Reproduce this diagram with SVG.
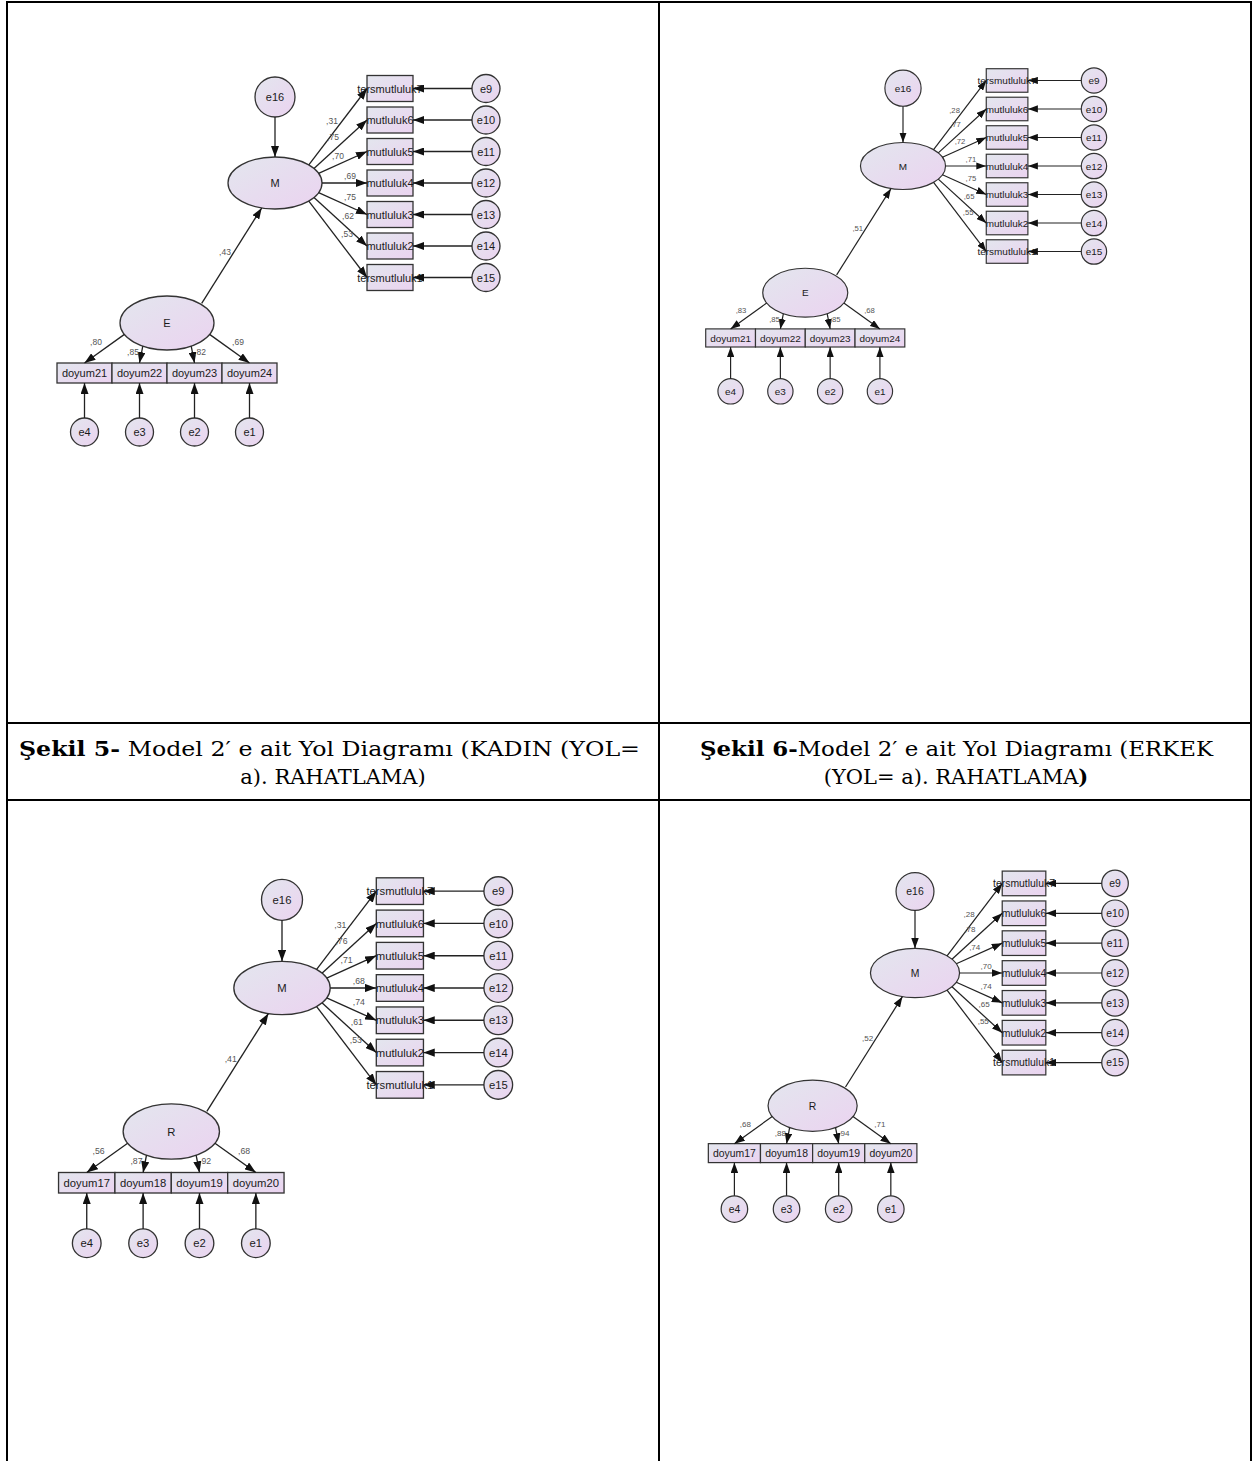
<svg xmlns="http://www.w3.org/2000/svg" width="1257" height="1461" viewBox="0 0 1257 1461">
<defs>
<linearGradient id="g" x1="0" y1="0" x2="1" y2="1">
<stop offset="0" stop-color="#e3e6ee"/>
<stop offset="1" stop-color="#ebd3f0"/>
</linearGradient>
<marker id="ah" viewBox="0 0 11 8" refX="11" refY="4" markerWidth="11" markerHeight="8" orient="auto" markerUnits="userSpaceOnUse">
<path d="M0,0 L11,4 L0,8 z" fill="#111"/>
</marker>
<style>
.n{fill:url(#g);stroke:#333;stroke-width:1.3}
.t{font-family:"Liberation Sans",Arial,sans-serif;font-size:11px;fill:#1a1a1a;text-anchor:middle}
.w{font-family:"Liberation Sans",Arial,sans-serif;font-size:8.5px;fill:#555;text-anchor:middle}
.c line{stroke:#222;stroke-width:1.3;marker-end:url(#ah)}
.tb{stroke:#000;stroke-width:2;fill:none}
.cap{font-family:"DejaVu Serif",serif;font-size:21px;fill:#000}
</style>
</defs>
<rect width="1257" height="1461" fill="#fff"/>
<g id="table">
<line class="tb" x1="6" y1="2" x2="1252" y2="2"/>
<line class="tb" x1="7" y1="1" x2="7" y2="1461"/>
<line class="tb" x1="1251" y1="1" x2="1251" y2="1461"/>
<line class="tb" x1="659" y1="1" x2="659" y2="1461"/>
<line class="tb" x1="6" y1="723" x2="1252" y2="723"/>
<line class="tb" x1="6" y1="800" x2="1252" y2="800" stroke-width="1.5"/>
</g>
<g id="captions">
<text class="cap" x="19" y="756" textLength="621" lengthAdjust="spacingAndGlyphs"><tspan font-weight="bold">Şekil 5-</tspan> Model 2′ e ait Yol Diagramı (KADIN (YOL=</text>
<text class="cap" x="333" y="784" text-anchor="middle">a). RAHATLAMA)</text>
<text class="cap" x="700" y="756" textLength="513" lengthAdjust="spacingAndGlyphs"><tspan font-weight="bold">Şekil 6-</tspan>Model 2′ e ait Yol Diagramı (ERKEK</text>
<text class="cap" x="956" y="784" text-anchor="middle">(YOL= a). RAHATLAMA<tspan font-weight="bold">)</tspan></text>
</g>

<!-- Diagram A -->
<g id="diagA" transform="translate(275,183)">
<g id="A-e16"><circle class="n" cx="0" cy="-86" r="20"/><text class="t" x="0" y="-82">e16</text></g>
<g id="A-M"><ellipse class="n" cx="0" cy="0" rx="47" ry="26"/><text class="t" x="0" y="4">M</text></g>
<g id="A-r7"><rect class="n" x="92" y="-107.5" width="46" height="26"/><text class="t" x="115" y="-90.5">tersmutluluk7</text></g>
<g id="A-r6"><rect class="n" x="92" y="-76" width="46" height="26"/><text class="t" x="115" y="-59">mutluluk6</text></g>
<g id="A-r5"><rect class="n" x="92" y="-44.5" width="46" height="26"/><text class="t" x="115" y="-27.5">mutluluk5</text></g>
<g id="A-r4"><rect class="n" x="92" y="-13" width="46" height="26"/><text class="t" x="115" y="4">mutluluk4</text></g>
<g id="A-r3"><rect class="n" x="92" y="18.5" width="46" height="26"/><text class="t" x="115" y="35.5">mutluluk3</text></g>
<g id="A-r2"><rect class="n" x="92" y="50" width="46" height="26"/><text class="t" x="115" y="67">mutluluk2</text></g>
<g id="A-r1"><rect class="n" x="92" y="81.5" width="46" height="26"/><text class="t" x="115" y="98.5">tersmutluluk1</text></g>
<g id="A-e9"><circle class="n" cx="211" cy="-94.5" r="14"/><text class="t" x="211" y="-90.5">e9</text></g>
<g id="A-e10"><circle class="n" cx="211" cy="-63" r="14"/><text class="t" x="211" y="-59">e10</text></g>
<g id="A-e11"><circle class="n" cx="211" cy="-31.5" r="14"/><text class="t" x="211" y="-27.5">e11</text></g>
<g id="A-e12"><circle class="n" cx="211" cy="0" r="14"/><text class="t" x="211" y="4">e12</text></g>
<g id="A-e13"><circle class="n" cx="211" cy="31.5" r="14"/><text class="t" x="211" y="35.5">e13</text></g>
<g id="A-e14"><circle class="n" cx="211" cy="63" r="14"/><text class="t" x="211" y="67">e14</text></g>
<g id="A-e15"><circle class="n" cx="211" cy="94.5" r="14"/><text class="t" x="211" y="98.5">e15</text></g>
<g id="A-E"><ellipse class="n" cx="-108" cy="140" rx="47" ry="27"/><text class="t" x="-108" y="144">E</text></g>
<g id="A-d21"><rect class="n" x="-218" y="180" width="55" height="20"/><text class="t" x="-190.5" y="194">doyum21</text></g>
<g id="A-d22"><rect class="n" x="-163" y="180" width="55" height="20"/><text class="t" x="-135.5" y="194">doyum22</text></g>
<g id="A-d23"><rect class="n" x="-108" y="180" width="55" height="20"/><text class="t" x="-80.5" y="194">doyum23</text></g>
<g id="A-d24"><rect class="n" x="-53" y="180" width="55" height="20"/><text class="t" x="-25.5" y="194">doyum24</text></g>
<g id="A-e4"><circle class="n" cx="-190.5" cy="249" r="14"/><text class="t" x="-190.5" y="253">e4</text></g>
<g id="A-e3"><circle class="n" cx="-135.5" cy="249" r="14"/><text class="t" x="-135.5" y="253">e3</text></g>
<g id="A-e2"><circle class="n" cx="-80.5" cy="249" r="14"/><text class="t" x="-80.5" y="253">e2</text></g>
<g id="A-e1"><circle class="n" cx="-25.5" cy="249" r="14"/><text class="t" x="-25.5" y="253">e1</text></g>
<g id="A-connectors" class="c">
<line x1="0" y1="-66" x2="0" y2="-26"/>
<line x1="33.8" y1="-18.1" x2="92" y2="-94.5"/>
<line x1="39" y1="-14.5" x2="92" y2="-63"/>
<line x1="43.6" y1="-9.7" x2="92" y2="-31.5"/>
<line x1="47" y1="0" x2="92" y2="0"/>
<line x1="43.6" y1="9.7" x2="92" y2="31.5"/>
<line x1="39" y1="14.5" x2="92" y2="63"/>
<line x1="33.8" y1="18.1" x2="92" y2="94.5"/>
<line x1="197" y1="-94.5" x2="138" y2="-94.5"/>
<line x1="197" y1="-63" x2="138" y2="-63"/>
<line x1="197" y1="-31.5" x2="138" y2="-31.5"/>
<line x1="197" y1="0" x2="138" y2="0"/>
<line x1="197" y1="31.5" x2="138" y2="31.5"/>
<line x1="197" y1="63" x2="138" y2="63"/>
<line x1="197" y1="94.5" x2="138" y2="94.5"/>
<line x1="-73.3" y1="120.3" x2="-13.3" y2="25"/>
<line x1="-150.6" y1="151.4" x2="-190.5" y2="180"/>
<line x1="-132.2" y1="163.1" x2="-135.5" y2="180"/>
<line x1="-83.8" y1="163.1" x2="-80.5" y2="180"/>
<line x1="-65.4" y1="151.4" x2="-25.5" y2="180"/>
<line x1="-190.5" y1="235" x2="-190.5" y2="200"/>
<line x1="-135.5" y1="235" x2="-135.5" y2="200"/>
<line x1="-80.5" y1="235" x2="-80.5" y2="200"/>
<line x1="-25.5" y1="235" x2="-25.5" y2="200"/>
</g>
<g id="A-labels">
<text class="w" x="57" y="-59">,31</text>
<text class="w" x="58" y="-43">,75</text>
<text class="w" x="63" y="-24">,70</text>
<text class="w" x="75" y="-4">,69</text>
<text class="w" x="75" y="17">,75</text>
<text class="w" x="73" y="36">,62</text>
<text class="w" x="72" y="54">,53</text>
<text class="w" x="-50" y="72">,43</text>
<text class="w" x="-179" y="162">,80</text>
<text class="w" x="-142" y="172">,85</text>
<text class="w" x="-75" y="172">,82</text>
<text class="w" x="-37" y="162">,69</text>
</g>
</g>

<!-- Diagram B -->
<g id="diagB" transform="translate(903,166) scale(0.905)">
<g id="B-e16"><circle class="n" cx="0" cy="-86" r="20"/><text class="t" x="0" y="-82">e16</text></g>
<g id="B-M"><ellipse class="n" cx="0" cy="0" rx="47" ry="26"/><text class="t" x="0" y="4">M</text></g>
<g id="B-r7"><rect class="n" x="92" y="-107.5" width="46" height="26"/><text class="t" x="115" y="-90.5">tersmutluluk7</text></g>
<g id="B-r6"><rect class="n" x="92" y="-76" width="46" height="26"/><text class="t" x="115" y="-59">mutluluk6</text></g>
<g id="B-r5"><rect class="n" x="92" y="-44.5" width="46" height="26"/><text class="t" x="115" y="-27.5">mutluluk5</text></g>
<g id="B-r4"><rect class="n" x="92" y="-13" width="46" height="26"/><text class="t" x="115" y="4">mutluluk4</text></g>
<g id="B-r3"><rect class="n" x="92" y="18.5" width="46" height="26"/><text class="t" x="115" y="35.5">mutluluk3</text></g>
<g id="B-r2"><rect class="n" x="92" y="50" width="46" height="26"/><text class="t" x="115" y="67">mutluluk2</text></g>
<g id="B-r1"><rect class="n" x="92" y="81.5" width="46" height="26"/><text class="t" x="115" y="98.5">tersmutluluk1</text></g>
<g id="B-e9"><circle class="n" cx="211" cy="-94.5" r="14"/><text class="t" x="211" y="-90.5">e9</text></g>
<g id="B-e10"><circle class="n" cx="211" cy="-63" r="14"/><text class="t" x="211" y="-59">e10</text></g>
<g id="B-e11"><circle class="n" cx="211" cy="-31.5" r="14"/><text class="t" x="211" y="-27.5">e11</text></g>
<g id="B-e12"><circle class="n" cx="211" cy="0" r="14"/><text class="t" x="211" y="4">e12</text></g>
<g id="B-e13"><circle class="n" cx="211" cy="31.5" r="14"/><text class="t" x="211" y="35.5">e13</text></g>
<g id="B-e14"><circle class="n" cx="211" cy="63" r="14"/><text class="t" x="211" y="67">e14</text></g>
<g id="B-e15"><circle class="n" cx="211" cy="94.5" r="14"/><text class="t" x="211" y="98.5">e15</text></g>
<g id="B-E"><ellipse class="n" cx="-108" cy="140" rx="47" ry="27"/><text class="t" x="-108" y="144">E</text></g>
<g id="B-d21"><rect class="n" x="-218" y="180" width="55" height="20"/><text class="t" x="-190.5" y="194">doyum21</text></g>
<g id="B-d22"><rect class="n" x="-163" y="180" width="55" height="20"/><text class="t" x="-135.5" y="194">doyum22</text></g>
<g id="B-d23"><rect class="n" x="-108" y="180" width="55" height="20"/><text class="t" x="-80.5" y="194">doyum23</text></g>
<g id="B-d24"><rect class="n" x="-53" y="180" width="55" height="20"/><text class="t" x="-25.5" y="194">doyum24</text></g>
<g id="B-e4"><circle class="n" cx="-190.5" cy="249" r="14"/><text class="t" x="-190.5" y="253">e4</text></g>
<g id="B-e3"><circle class="n" cx="-135.5" cy="249" r="14"/><text class="t" x="-135.5" y="253">e3</text></g>
<g id="B-e2"><circle class="n" cx="-80.5" cy="249" r="14"/><text class="t" x="-80.5" y="253">e2</text></g>
<g id="B-e1"><circle class="n" cx="-25.5" cy="249" r="14"/><text class="t" x="-25.5" y="253">e1</text></g>
<g id="B-connectors" class="c">
<line x1="0" y1="-66" x2="0" y2="-26"/>
<line x1="33.8" y1="-18.1" x2="92" y2="-94.5"/>
<line x1="39" y1="-14.5" x2="92" y2="-63"/>
<line x1="43.6" y1="-9.7" x2="92" y2="-31.5"/>
<line x1="47" y1="0" x2="92" y2="0"/>
<line x1="43.6" y1="9.7" x2="92" y2="31.5"/>
<line x1="39" y1="14.5" x2="92" y2="63"/>
<line x1="33.8" y1="18.1" x2="92" y2="94.5"/>
<line x1="197" y1="-94.5" x2="138" y2="-94.5"/>
<line x1="197" y1="-63" x2="138" y2="-63"/>
<line x1="197" y1="-31.5" x2="138" y2="-31.5"/>
<line x1="197" y1="0" x2="138" y2="0"/>
<line x1="197" y1="31.5" x2="138" y2="31.5"/>
<line x1="197" y1="63" x2="138" y2="63"/>
<line x1="197" y1="94.5" x2="138" y2="94.5"/>
<line x1="-73.3" y1="120.3" x2="-13.3" y2="25"/>
<line x1="-150.6" y1="151.4" x2="-190.5" y2="180"/>
<line x1="-132.2" y1="163.1" x2="-135.5" y2="180"/>
<line x1="-83.8" y1="163.1" x2="-80.5" y2="180"/>
<line x1="-65.4" y1="151.4" x2="-25.5" y2="180"/>
<line x1="-190.5" y1="235" x2="-190.5" y2="200"/>
<line x1="-135.5" y1="235" x2="-135.5" y2="200"/>
<line x1="-80.5" y1="235" x2="-80.5" y2="200"/>
<line x1="-25.5" y1="235" x2="-25.5" y2="200"/>
</g>
<g id="B-labels">
<text class="w" x="57" y="-59">,28</text>
<text class="w" x="58" y="-43">,77</text>
<text class="w" x="63" y="-24">,72</text>
<text class="w" x="75" y="-4">,71</text>
<text class="w" x="75" y="17">,75</text>
<text class="w" x="73" y="36">,65</text>
<text class="w" x="72" y="54">,55</text>
<text class="w" x="-50" y="72">,51</text>
<text class="w" x="-179" y="162">,83</text>
<text class="w" x="-142" y="172">,85</text>
<text class="w" x="-75" y="172">,85</text>
<text class="w" x="-37" y="162">,68</text>
</g>
</g>

<!-- Diagram C -->
<g id="diagC" transform="translate(282,988) scale(1.025)">
<g id="C-e16"><circle class="n" cx="0" cy="-86" r="20"/><text class="t" x="0" y="-82">e16</text></g>
<g id="C-M"><ellipse class="n" cx="0" cy="0" rx="47" ry="26"/><text class="t" x="0" y="4">M</text></g>
<g id="C-r7"><rect class="n" x="92" y="-107.5" width="46" height="26"/><text class="t" x="115" y="-90.5">tersmutluluk7</text></g>
<g id="C-r6"><rect class="n" x="92" y="-76" width="46" height="26"/><text class="t" x="115" y="-59">mutluluk6</text></g>
<g id="C-r5"><rect class="n" x="92" y="-44.5" width="46" height="26"/><text class="t" x="115" y="-27.5">mutluluk5</text></g>
<g id="C-r4"><rect class="n" x="92" y="-13" width="46" height="26"/><text class="t" x="115" y="4">mutluluk4</text></g>
<g id="C-r3"><rect class="n" x="92" y="18.5" width="46" height="26"/><text class="t" x="115" y="35.5">mutluluk3</text></g>
<g id="C-r2"><rect class="n" x="92" y="50" width="46" height="26"/><text class="t" x="115" y="67">mutluluk2</text></g>
<g id="C-r1"><rect class="n" x="92" y="81.5" width="46" height="26"/><text class="t" x="115" y="98.5">tersmutluluk1</text></g>
<g id="C-e9"><circle class="n" cx="211" cy="-94.5" r="14"/><text class="t" x="211" y="-90.5">e9</text></g>
<g id="C-e10"><circle class="n" cx="211" cy="-63" r="14"/><text class="t" x="211" y="-59">e10</text></g>
<g id="C-e11"><circle class="n" cx="211" cy="-31.5" r="14"/><text class="t" x="211" y="-27.5">e11</text></g>
<g id="C-e12"><circle class="n" cx="211" cy="0" r="14"/><text class="t" x="211" y="4">e12</text></g>
<g id="C-e13"><circle class="n" cx="211" cy="31.5" r="14"/><text class="t" x="211" y="35.5">e13</text></g>
<g id="C-e14"><circle class="n" cx="211" cy="63" r="14"/><text class="t" x="211" y="67">e14</text></g>
<g id="C-e15"><circle class="n" cx="211" cy="94.5" r="14"/><text class="t" x="211" y="98.5">e15</text></g>
<g id="C-R"><ellipse class="n" cx="-108" cy="140" rx="47" ry="27"/><text class="t" x="-108" y="144">R</text></g>
<g id="C-d17"><rect class="n" x="-218" y="180" width="55" height="20"/><text class="t" x="-190.5" y="194">doyum17</text></g>
<g id="C-d18"><rect class="n" x="-163" y="180" width="55" height="20"/><text class="t" x="-135.5" y="194">doyum18</text></g>
<g id="C-d19"><rect class="n" x="-108" y="180" width="55" height="20"/><text class="t" x="-80.5" y="194">doyum19</text></g>
<g id="C-d20"><rect class="n" x="-53" y="180" width="55" height="20"/><text class="t" x="-25.5" y="194">doyum20</text></g>
<g id="C-e4"><circle class="n" cx="-190.5" cy="249" r="14"/><text class="t" x="-190.5" y="253">e4</text></g>
<g id="C-e3"><circle class="n" cx="-135.5" cy="249" r="14"/><text class="t" x="-135.5" y="253">e3</text></g>
<g id="C-e2"><circle class="n" cx="-80.5" cy="249" r="14"/><text class="t" x="-80.5" y="253">e2</text></g>
<g id="C-e1"><circle class="n" cx="-25.5" cy="249" r="14"/><text class="t" x="-25.5" y="253">e1</text></g>
<g id="C-connectors" class="c">
<line x1="0" y1="-66" x2="0" y2="-26"/>
<line x1="33.8" y1="-18.1" x2="92" y2="-94.5"/>
<line x1="39" y1="-14.5" x2="92" y2="-63"/>
<line x1="43.6" y1="-9.7" x2="92" y2="-31.5"/>
<line x1="47" y1="0" x2="92" y2="0"/>
<line x1="43.6" y1="9.7" x2="92" y2="31.5"/>
<line x1="39" y1="14.5" x2="92" y2="63"/>
<line x1="33.8" y1="18.1" x2="92" y2="94.5"/>
<line x1="197" y1="-94.5" x2="138" y2="-94.5"/>
<line x1="197" y1="-63" x2="138" y2="-63"/>
<line x1="197" y1="-31.5" x2="138" y2="-31.5"/>
<line x1="197" y1="0" x2="138" y2="0"/>
<line x1="197" y1="31.5" x2="138" y2="31.5"/>
<line x1="197" y1="63" x2="138" y2="63"/>
<line x1="197" y1="94.5" x2="138" y2="94.5"/>
<line x1="-73.3" y1="120.3" x2="-13.3" y2="25"/>
<line x1="-150.6" y1="151.4" x2="-190.5" y2="180"/>
<line x1="-132.2" y1="163.1" x2="-135.5" y2="180"/>
<line x1="-83.8" y1="163.1" x2="-80.5" y2="180"/>
<line x1="-65.4" y1="151.4" x2="-25.5" y2="180"/>
<line x1="-190.5" y1="235" x2="-190.5" y2="200"/>
<line x1="-135.5" y1="235" x2="-135.5" y2="200"/>
<line x1="-80.5" y1="235" x2="-80.5" y2="200"/>
<line x1="-25.5" y1="235" x2="-25.5" y2="200"/>
</g>
<g id="C-labels">
<text class="w" x="57" y="-59">,31</text>
<text class="w" x="58" y="-43">,76</text>
<text class="w" x="63" y="-24">,71</text>
<text class="w" x="75" y="-4">,68</text>
<text class="w" x="75" y="17">,74</text>
<text class="w" x="73" y="36">,61</text>
<text class="w" x="72" y="54">,53</text>
<text class="w" x="-50" y="72">,41</text>
<text class="w" x="-179" y="162">,56</text>
<text class="w" x="-142" y="172">,87</text>
<text class="w" x="-75" y="172">,92</text>
<text class="w" x="-37" y="162">,68</text>
</g>
</g>

<!-- Diagram D -->
<g id="diagD" transform="translate(915,973) scale(0.948)">
<g id="D-e16"><circle class="n" cx="0" cy="-86" r="20"/><text class="t" x="0" y="-82">e16</text></g>
<g id="D-M"><ellipse class="n" cx="0" cy="0" rx="47" ry="26"/><text class="t" x="0" y="4">M</text></g>
<g id="D-r7"><rect class="n" x="92" y="-107.5" width="46" height="26"/><text class="t" x="115" y="-90.5">tersmutluluk7</text></g>
<g id="D-r6"><rect class="n" x="92" y="-76" width="46" height="26"/><text class="t" x="115" y="-59">mutluluk6</text></g>
<g id="D-r5"><rect class="n" x="92" y="-44.5" width="46" height="26"/><text class="t" x="115" y="-27.5">mutluluk5</text></g>
<g id="D-r4"><rect class="n" x="92" y="-13" width="46" height="26"/><text class="t" x="115" y="4">mutluluk4</text></g>
<g id="D-r3"><rect class="n" x="92" y="18.5" width="46" height="26"/><text class="t" x="115" y="35.5">mutluluk3</text></g>
<g id="D-r2"><rect class="n" x="92" y="50" width="46" height="26"/><text class="t" x="115" y="67">mutluluk2</text></g>
<g id="D-r1"><rect class="n" x="92" y="81.5" width="46" height="26"/><text class="t" x="115" y="98.5">tersmutluluk1</text></g>
<g id="D-e9"><circle class="n" cx="211" cy="-94.5" r="14"/><text class="t" x="211" y="-90.5">e9</text></g>
<g id="D-e10"><circle class="n" cx="211" cy="-63" r="14"/><text class="t" x="211" y="-59">e10</text></g>
<g id="D-e11"><circle class="n" cx="211" cy="-31.5" r="14"/><text class="t" x="211" y="-27.5">e11</text></g>
<g id="D-e12"><circle class="n" cx="211" cy="0" r="14"/><text class="t" x="211" y="4">e12</text></g>
<g id="D-e13"><circle class="n" cx="211" cy="31.5" r="14"/><text class="t" x="211" y="35.5">e13</text></g>
<g id="D-e14"><circle class="n" cx="211" cy="63" r="14"/><text class="t" x="211" y="67">e14</text></g>
<g id="D-e15"><circle class="n" cx="211" cy="94.5" r="14"/><text class="t" x="211" y="98.5">e15</text></g>
<g id="D-R"><ellipse class="n" cx="-108" cy="140" rx="47" ry="27"/><text class="t" x="-108" y="144">R</text></g>
<g id="D-d17"><rect class="n" x="-218" y="180" width="55" height="20"/><text class="t" x="-190.5" y="194">doyum17</text></g>
<g id="D-d18"><rect class="n" x="-163" y="180" width="55" height="20"/><text class="t" x="-135.5" y="194">doyum18</text></g>
<g id="D-d19"><rect class="n" x="-108" y="180" width="55" height="20"/><text class="t" x="-80.5" y="194">doyum19</text></g>
<g id="D-d20"><rect class="n" x="-53" y="180" width="55" height="20"/><text class="t" x="-25.5" y="194">doyum20</text></g>
<g id="D-e4"><circle class="n" cx="-190.5" cy="249" r="14"/><text class="t" x="-190.5" y="253">e4</text></g>
<g id="D-e3"><circle class="n" cx="-135.5" cy="249" r="14"/><text class="t" x="-135.5" y="253">e3</text></g>
<g id="D-e2"><circle class="n" cx="-80.5" cy="249" r="14"/><text class="t" x="-80.5" y="253">e2</text></g>
<g id="D-e1"><circle class="n" cx="-25.5" cy="249" r="14"/><text class="t" x="-25.5" y="253">e1</text></g>
<g id="D-connectors" class="c">
<line x1="0" y1="-66" x2="0" y2="-26"/>
<line x1="33.8" y1="-18.1" x2="92" y2="-94.5"/>
<line x1="39" y1="-14.5" x2="92" y2="-63"/>
<line x1="43.6" y1="-9.7" x2="92" y2="-31.5"/>
<line x1="47" y1="0" x2="92" y2="0"/>
<line x1="43.6" y1="9.7" x2="92" y2="31.5"/>
<line x1="39" y1="14.5" x2="92" y2="63"/>
<line x1="33.8" y1="18.1" x2="92" y2="94.5"/>
<line x1="197" y1="-94.5" x2="138" y2="-94.5"/>
<line x1="197" y1="-63" x2="138" y2="-63"/>
<line x1="197" y1="-31.5" x2="138" y2="-31.5"/>
<line x1="197" y1="0" x2="138" y2="0"/>
<line x1="197" y1="31.5" x2="138" y2="31.5"/>
<line x1="197" y1="63" x2="138" y2="63"/>
<line x1="197" y1="94.5" x2="138" y2="94.5"/>
<line x1="-73.3" y1="120.3" x2="-13.3" y2="25"/>
<line x1="-150.6" y1="151.4" x2="-190.5" y2="180"/>
<line x1="-132.2" y1="163.1" x2="-135.5" y2="180"/>
<line x1="-83.8" y1="163.1" x2="-80.5" y2="180"/>
<line x1="-65.4" y1="151.4" x2="-25.5" y2="180"/>
<line x1="-190.5" y1="235" x2="-190.5" y2="200"/>
<line x1="-135.5" y1="235" x2="-135.5" y2="200"/>
<line x1="-80.5" y1="235" x2="-80.5" y2="200"/>
<line x1="-25.5" y1="235" x2="-25.5" y2="200"/>
</g>
<g id="D-labels">
<text class="w" x="57" y="-59">,28</text>
<text class="w" x="58" y="-43">,78</text>
<text class="w" x="63" y="-24">,74</text>
<text class="w" x="75" y="-4">,70</text>
<text class="w" x="75" y="17">,74</text>
<text class="w" x="73" y="36">,65</text>
<text class="w" x="72" y="54">,55</text>
<text class="w" x="-50" y="72">,52</text>
<text class="w" x="-179" y="162">,68</text>
<text class="w" x="-142" y="172">,88</text>
<text class="w" x="-75" y="172">,94</text>
<text class="w" x="-37" y="162">,71</text>
</g>
</g>
</svg>
